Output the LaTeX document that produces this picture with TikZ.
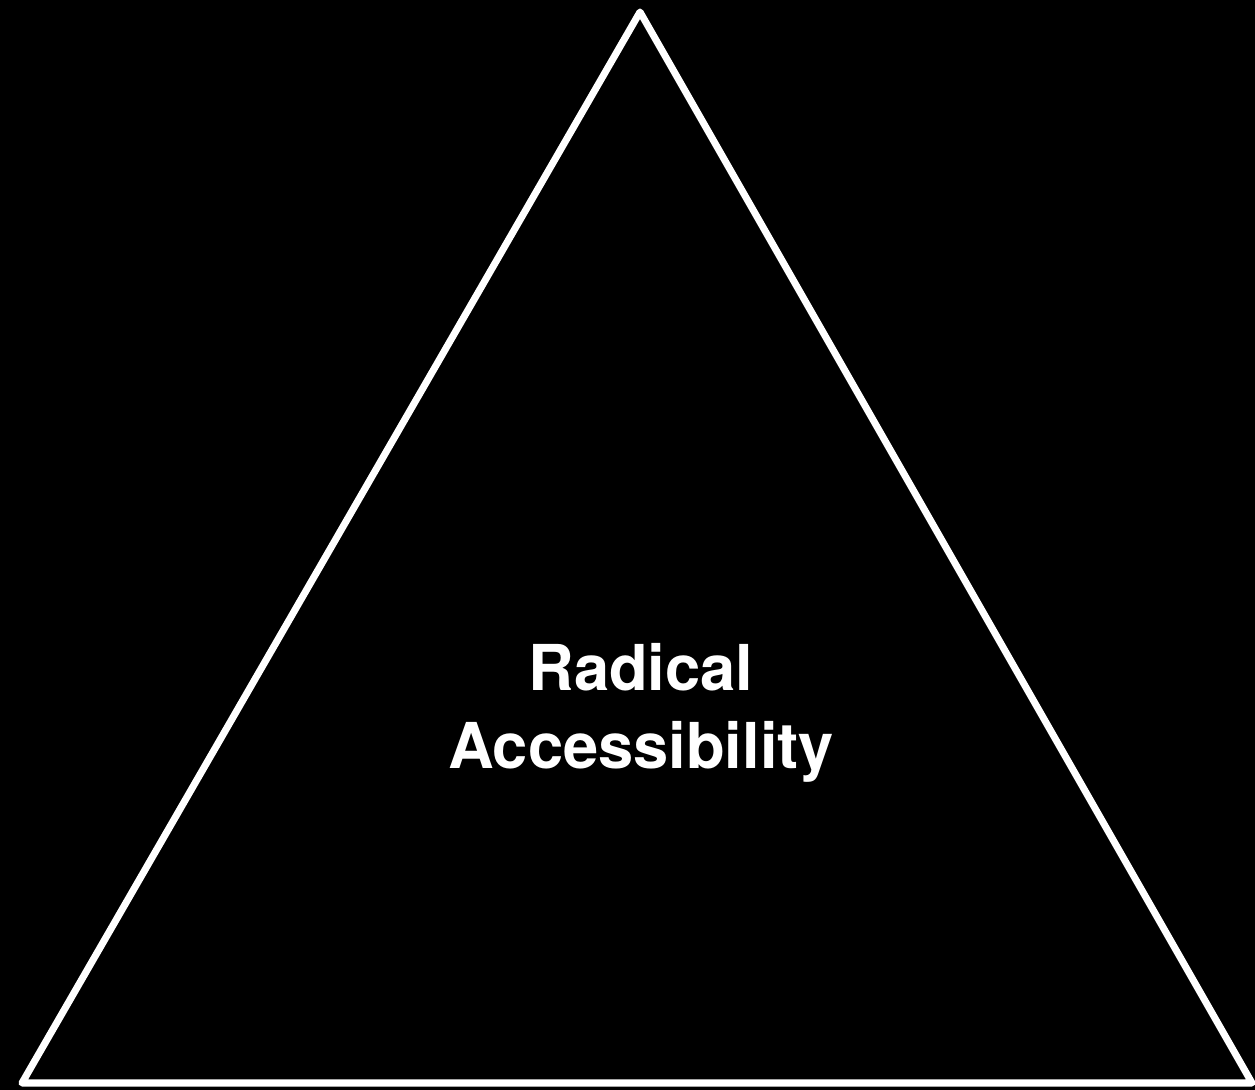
\documentclass[tikz,border=0pt]{standalone}
\usepackage{fontspec}
\setmainfont{TeX Gyre Heros}
\usetikzlibrary{positioning}

\begin{document}
\begin{tikzpicture}[
    outline/.style={draw=white, line width=4pt, line join=round},
    label/.style={text=white, font=\bfseries\fontsize{36}{44}\selectfont, align=center, inner sep=0pt}
]

% Background
\fill[black] (0,0) rectangle (25.1,21.8);
\useasboundingbox (0,0) rectangle (25.1,21.8);

% Corners
\coordinate (Top) at (12.8,21.56);
\coordinate (Left) at (0.44,0.14);
\coordinate (Right) at (25.04,0.14);

% Triangle
\draw[outline] (Top) -- (Left) -- (Right) -- cycle;

% Label
\node[label] (Radical) at (12.82,7.54) {Radical\\Accessibility};

\end{tikzpicture}
\end{document}
